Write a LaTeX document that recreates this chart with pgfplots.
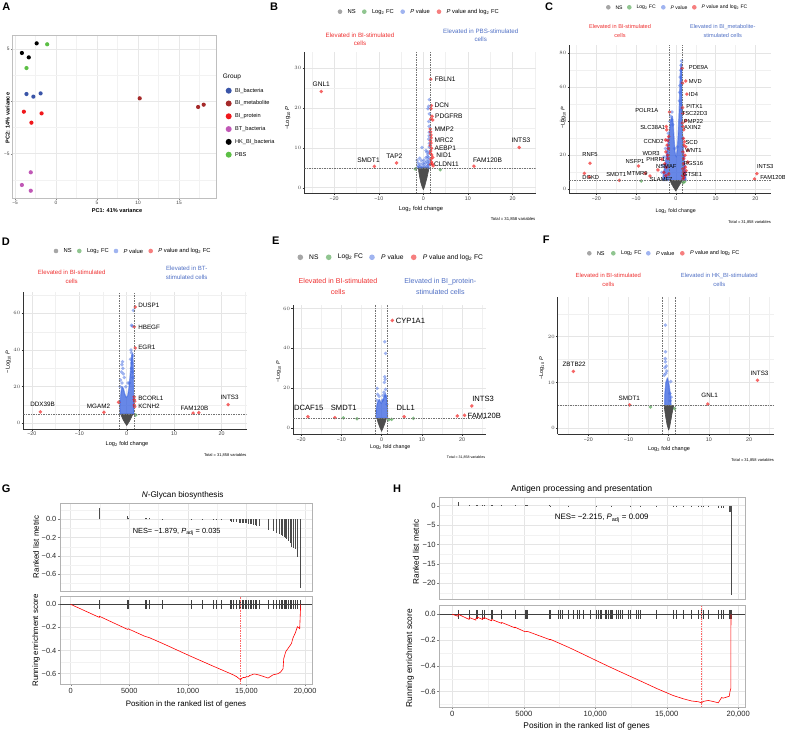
\documentclass[border=0pt]{standalone}
\usepackage{pgfplots}
\pgfplotsset{compat=1.18}
\usepackage{fontspec}
\setmainfont{Liberation Sans}
\definecolor{nsgrey}{HTML}{4D4D4D}
\definecolor{fcgreen}{HTML}{228B22}
\definecolor{pblue}{HTML}{4169E1}
\definecolor{bothred}{HTML}{EE0000}
\definecolor{annred}{HTML}{EE3030}
\definecolor{annblue}{HTML}{4F6FC4}
\definecolor{cBIb}{HTML}{3A55A8}
\definecolor{cBIm}{HTML}{A52A2A}
\definecolor{cBIp}{HTML}{F0181C}
\definecolor{cBT}{HTML}{C058B6}
\definecolor{cHK}{HTML}{000000}
\definecolor{cPBS}{HTML}{5CBF45}
\pgfplotsset{
  volc/.style={scale only axis, anchor=south west,
    axis x line*=bottom, axis y line*=left,
    axis line style={black!80, line width=0.7pt, -},
    tick style={black!80, line width=0.4pt},
    tick align=outside, major tick length=1.8pt, minor tick length=0pt,
    grid=both,
    major grid style={black!10, line width=0.45pt},
    minor grid style={black!6, line width=0.3pt},
    tick label style={font=\fontsize{5.3}{6}\selectfont, text=black!75, inner sep=1pt},
    clip mode=individual,
    xtick={-20,-10,0,10,20}, xticklabels={−20,−10,0,10,20},
    minor xtick={-25,-15,-5,5,15,25},
  },
  volFC/.style={only marks, mark=*, mark size=1.9pt, color=fcgreen, fill opacity=0.55, draw opacity=0},
  volPV/.style={only marks, mark=*, mark size=1.9pt, color=pblue, fill opacity=0.5, draw opacity=0},
  volBT/.style={only marks, mark=*, mark size=1.9pt, color=bothred, fill opacity=0.6, draw opacity=0},
  thr/.style={black!55, line width=0.35pt, dash pattern=on 1.5pt off 1pt},
  nspoly/.style={fill=nsgrey, draw=nsgrey, line width=0.6pt, line join=round},
  pvpoly/.style={fill=pblue, fill opacity=0.8, draw=pblue, draw opacity=0.6, line width=1.2pt, line join=round},
  grp/.style={only marks, mark=*, mark size=2.1pt, color=#1, draw opacity=0},
  pca/.style={scale only axis, anchor=south west,
    axis line style={black!25, line width=0.5pt},
    tick style={black!50, line width=0.3pt}, tick pos=left,
    tick align=outside, major tick length=1.5pt, minor tick length=0pt,
    grid=both, major grid style={black!9, line width=0.4pt}, minor grid style={black!5, line width=0.3pt},
    tick label style={font=\fontsize{4.8}{5}\selectfont, text=black!75, inner sep=1pt}},
  gsea/.style={scale only axis, anchor=south west,
    axis line style={black!30, line width=0.6pt},
    tick style={black!50, line width=0.4pt}, tick pos=left,
    tick align=outside, major tick length=2pt, minor tick length=0pt,
    grid=both, major grid style={black!10, line width=0.45pt}, minor grid style={black!5, line width=0.3pt},
    clip mode=individual, scaled x ticks=false,
    xtick={0,5000,10000,15000,20000},
    minor xtick={2500,7500,12500,17500},
    tick label style={text=black!85, inner sep=1.5pt}},
  legc/.style={only marks, mark=*, mark size=#1, draw opacity=0},
}
\begin{document}
\begin{tikzpicture}[x=1pt,y=1pt]
\path[use as bounding box] (0,0) rectangle (785,-733);

% ===================== A =====================
\begin{axis}[pca, at={(12.3pt,-198.7pt)}, width=203.7pt, height=163pt,
  xmin=-5.33, xmax=19.5, ymin=-9.3, ymax=6.27,
  xtick={-5,0,5,10,15}, xticklabels={−5,0,5,10,15},
  ytick={-5,0,5}, yticklabels={−5,0,5},
  minor xtick={-2.5,2.5,7.5,12.5,17.5}, minor ytick={-7.5,-2.5,2.5}]
\addplot[grp=cBIb] coordinates {(-3.6,0.70) (-2.76,0.45) (-1.88,0.76)};
\addplot[grp=cBIm] coordinates {(10.2,0.29) (17.32,-0.54) (18.0,-0.32)};
\addplot[grp=cBIp] coordinates {(-3.92,-0.99) (-1.76,-1.15) (-3.0,-2.04)};
\addplot[grp=cBT] coordinates {(-3.08,-6.78) (-4.16,-7.99) (-3.08,-8.54)};
\addplot[grp=cHK] coordinates {(-2.36,5.54) (-4.16,4.62) (-3.32,4.2)};
\addplot[grp=cPBS] coordinates {(-1.08,5.45) (-3.6,3.18)};
\end{axis}
\node[font=\bfseries\fontsize{5.6}{6}\selectfont] at (117,-210) {PC1: 41\% variance};
\node[font=\bfseries\fontsize{5.6}{6}\selectfont, rotate=90] at (7.5,-118) {PC2: 14\% variance};
\node[font=\fontsize{6.5}{7}\selectfont, anchor=west, inner sep=0pt] at (222.7,-77.3) {Group};
\begin{scope}[font=\fontsize{5.6}{6}\selectfont, every node/.style={anchor=west, inner sep=0pt}]
\node at (235,-90.7) {BI\_bacteria};
\node at (235,-103.5) {BI\_metabolite};
\node at (235,-116.3) {BI\_protein};
\node at (235,-129.1) {BT\_bacteria};
\node at (235,-141.9) {HK\_BI\_bacteria};
\node at (235,-154.7) {PBS};
\end{scope}

% ===================== B =====================
\begin{axis}[volc, at={(304.3pt,-193.3pt)}, width=231.4pt, height=141.6pt,
  xmin=-26.7, xmax=25.2, ymin=-1.4, ymax=34.1, ytick={0,10,20,30}, minor ytick={5,15,25}]
\addplot[nspoly] coordinates {(0,-0.5) (-0.3,0.3) (-0.55,1.2) (-0.75,2.2) (-0.9,3.2) (-1.05,4.2) (-1.1,5.0) (1.25,5.0) (1.15,4.2) (0.95,3.2) (0.75,2.2) (0.5,1.2) (0.3,0.3)} --cycle;
\addplot[volPV] coordinates {(1.35,22.1) (1.2,20.4) (1.05,19.8) (1.35,18.5) (1.2,16.6) (1.3,15.4) (1.35,13.9) (1.3,13.0) (1.2,12.2) (1.35,11.1) (-0.3,10.1) (0.6,9.3) (0.8,8.9) (1.05,8.4) (1.2,7.6) (1.3,9.0) (1.35,10.2) (-1.4,6.9) (-0.8,7.4) (-0.45,6.8) (0.1,6.9) (0.45,6.3) (0.8,6.6) (1.05,6.1) (1.2,5.8) (-1.05,5.5) (-0.7,5.9) (-0.2,5.3) (0.2,5.8) (0.7,5.3) (-1.3,5.1) (-0.45,5.1) (1.2,5.1) (0.9,7.8) (1.1,7.0) (-1.2,6.2) (0.3,5.2) (-0.9,5.2) (0.6,7.5) (1.3,6.5) (1.0,5.5) (-0.1,6.1)};
\addplot[volFC] coordinates {(-1.8,4.7) (3.8,4.5)};
\addplot[volBT] coordinates {(1.65,27.2) (1.8,20.6) (1.7,19.8) (1.95,17.9) (1.65,17.2) (2.1,17.0) (1.55,14.7) (1.6,14.0) (1.7,13.2) (1.6,11.8) (1.7,11.2) (1.55,10.6) (1.8,9.9) (1.65,9.2) (1.9,8.2) (2.1,7.6) (1.7,7.2) (1.8,6.5) (2.0,6.0) (1.6,5.8) (2.2,5.5) (1.6,8.6) (1.75,12.5) (-22.9,24.1) (-11.0,5.35) (-6.0,6.2) (11.35,5.4) (21.5,10.1)};
\addplot[thr] coordinates {(-1.5,-1.4) (-1.5,34.1)};
\addplot[thr] coordinates {(1.5,-1.4) (1.5,34.1)};
\addplot[thr] coordinates {(-26.7,5) (25.2,5)};
\begin{scope}[every node/.style={font=\fontsize{6.6}{7}\selectfont, inner sep=0pt}]
\node at (axis cs:-22.9,25.9) {GNL1};
\node at (axis cs:-12.3,6.9) {SMDT1};
\node at (axis cs:-6.5,8.0) {TAP2};
\node at (axis cs:14.4,7.0) {FAM120B};
\node at (axis cs:21.9,11.8) {INTS3};
\node[anchor=west] at (axis cs:2.55,27.2) {FBLN1};
\node[anchor=west] at (axis cs:2.5,20.6) {DCN};
\node[anchor=west] at (axis cs:2.6,17.9) {PDGFRB};
\node[anchor=west] at (axis cs:2.5,14.7) {MMP2};
\node[anchor=west] at (axis cs:2.5,11.8) {MRC2};
\node[anchor=west] at (axis cs:2.5,9.9) {AEBP1};
\node[anchor=west] at (axis cs:2.9,8.2) {NID1};
\node[anchor=west] at (axis cs:2.35,5.9) {CLDN11};
\end{scope}
\end{axis}
\begin{scope}[font=\fontsize{5.8}{6}\selectfont, every node/.style={anchor=west, inner sep=0pt}]
\node at (347.5,-11.7) {NS};
\node at (371.8,-11.7) {Log\textsubscript{2} FC};
\node at (410.2,-11.7) {\textit{P} value};
\node at (446.5,-11.7) {\textit{P} value and log\textsubscript{2} FC};
\end{scope}
\node[align=center, text=annred, font=\fontsize{6.2}{8.3}\selectfont] at (360,-39.2) {Elevated in BI-stimulated\\cells};
\node[align=center, text=annblue, font=\fontsize{6.2}{8.3}\selectfont] at (480.7,-35) {Elevated in PBS-stimulated\\cells};
\node[font=\fontsize{5.8}{6}\selectfont] at (421,-208.7) {Log\textsubscript{2} fold change};
\node[font=\fontsize{5.8}{6}\selectfont, rotate=90] at (287.7,-118) {−Log\textsubscript{10} \textit{P}};
\node[font=\fontsize{4.2}{5}\selectfont, anchor=east, inner sep=0pt] at (535.5,-219) {Total = 31,858 variables};

% ===================== C =====================
\begin{axis}[volc, at={(569.3pt,-193.3pt)}, width=201.7pt, height=148.3pt,
  xmin=-26.8, xmax=23.95, ymin=-2.35, ymax=84.9, ytick={0,20,40,60,80}, minor ytick={10,30,50,70}]
\addplot[pvpoly] coordinates {(-3.3,5.2) (-3.2,8) (-2.9,12) (-2.6,16) (-2.3,21) (-2.0,26) (-1.8,30) (-1.6,34) (-1.4,38) (-1.2,41) (-0.9,43) (-0.7,40) (-0.55,34) (-0.4,28) (-0.2,22) (0.1,19) (0.35,23) (0.55,30) (0.7,38) (0.85,46) (0.95,54) (1.05,62) (1.15,69) (1.35,74) (1.5,70) (1.5,62) (1.5,52) (1.55,44) (1.6,36) (1.75,28) (1.9,22) (2.1,16) (2.3,11) (2.5,7) (2.6,5.2)} --cycle;
\addplot[nspoly] coordinates {(0,-1.0) (-0.6,1.2) (-1.1,3.2) (-1.45,5.2) (1.55,5.2) (1.1,3.2) (0.6,1.2)} --cycle;
\addplot[volPV] coordinates {(1.45,75.5) (1.3,73) (1.25,70) (1.1,66) (1.0,61) (0.95,57) (0.9,52) (1.3,50) (1.4,47) (-0.95,45.5) (-1.3,43) (-1.05,41) (-1.5,40) (-0.8,38) (-1.9,33) (-2.2,29) (-2.6,24) (-3.0,19) (-3.4,14) (-3.5,10) (2.4,10) (2.2,14) (2.0,19) (1.8,25) (1.7,30) (0.4,25) (-0.3,24)};
\addplot[volFC] coordinates {(-8.7,4.9) (1.8,3.9) (2.2,4.5)};
\addplot[volBT] coordinates {(-1.6,45.5) (-2.4,36.9) (-2.3,35) (-2.0,28.6) (-2.2,26) (-1.9,24) (-2.5,22) (-2.1,20) (-3.5,17.6) (-2.0,18) (-2.8,15) (-4.5,11.4) (-2.4,13) (-3.0,10) (-1.8,9) (-2.5,8) (-6.5,7.8) (-7.7,9.4) (-9.4,13.7) (-14.2,5.3) (-21.6,15.3) (-23.0,9.4) (-21.8,7.3) (-1.8,31) (-2.6,29) (1.6,71.2) (2.5,63.7) (1.7,62.5) (2.8,56) (1.7,48) (1.8,44.7) (2.5,40.4) (1.7,39) (1.8,36.9) (2.0,35) (1.9,30) (2.2,28) (2.0,26) (2.5,25) (3.0,23) (1.8,22) (2.3,20) (2.0,18) (3.0,16) (1.9,15) (2.4,13) (1.8,12) (2.6,11) (1.9,10) (2.2,9) (1.7,8) (2.0,7) (1.8,6) (20.4,9.2) (19.8,6.1)};
\addplot[thr] coordinates {(-1.6,-2.35) (-1.6,84.9)};
\addplot[thr] coordinates {(1.6,-2.35) (1.6,84.9)};
\addplot[thr] coordinates {(-26.8,5.3) (23.95,5.3)};
\begin{scope}[every node/.style={font=\fontsize{5.8}{6}\selectfont, inner sep=0pt}]
\node at (axis cs:-21.6,20.2) {RNF5};
\node at (axis cs:-21.4,7.1) {DGKD};
\node at (axis cs:-15.0,9.0) {SMDT1};
\node at (axis cs:-10.25,16.1) {NSFP1};
\node at (axis cs:-9.7,9.4) {MTMR9};
\node at (axis cs:-5.0,17.3) {PHRF1};
\node at (axis cs:-2.4,13.3) {NSMAF};
\node at (axis cs:-6.2,21.2) {WDR3};
\node at (axis cs:-5.6,28.2) {CCND2};
\node at (axis cs:-5.8,36.3) {SLC38A1};
\node at (axis cs:-7.3,46.1) {POLR1A};
\node at (axis cs:-3.7,5.9) {SLAMF7};
\node at (axis cs:5.7,71.6) {PDE9A};
\node at (axis cs:4.9,63.7) {MVD};
\node at (axis cs:4.45,55.9) {ID4};
\node at (axis cs:4.7,48.6) {PITX1};
\node at (axis cs:4.7,44.7) {TSC22D3};
\node at (axis cs:4.45,39.8) {PMP22};
\node at (axis cs:4.2,36.5) {AXIN2};
\node at (axis cs:4.0,27.5) {SCD};
\node at (axis cs:4.45,23.1) {WNT1};
\node at (axis cs:4.45,15.3) {RGS16};
\node at (axis cs:4.2,8.8) {GTSE1};
\node at (axis cs:22.5,13.3) {INTS3};
\node at (axis cs:24.45,7.1) {FAM120B};
\end{scope}
\end{axis}
\begin{scope}[font=\fontsize{5.1}{6}\selectfont, every node/.style={anchor=west, inner sep=0pt}]
\node at (615.3,-7.3) {NS};
\node at (636.3,-7.3) {Log\textsubscript{2} FC};
\node at (670.3,-7.3) {\textit{P} value};
\node at (701.3,-7.3) {\textit{P} value and log\textsubscript{2} FC};
\end{scope}
\node[align=center, text=annred, font=\fontsize{5.6}{9}\selectfont] at (620,-30.5) {Elevated in BI-stimulated\\cells};
\node[align=center, text=annblue, font=\fontsize{5.6}{9}\selectfont] at (722.7,-30.5) {Elevated in BI\_metabolite-\\stimulated cells};
\node[font=\fontsize{5.3}{6}\selectfont] at (675.7,-211) {Log\textsubscript{2} fold change};
\node[font=\fontsize{5.3}{6}\selectfont, rotate=90] at (563.3,-118) {−Log\textsubscript{10} \textit{P}};
\node[font=\fontsize{4.0}{5}\selectfont, anchor=east, inner sep=0pt] at (771,-222.7) {Total = 31,858 variables};

% ===================== D =====================
\begin{axis}[volc, at={(23.3pt,-429pt)}, width=223.4pt, height=137.3pt,
  xmin=-21.8, xmax=25.3, ymin=-3.1, ymax=71.8, ytick={0,20,40,60}, minor ytick={10,30,50,70}]
\addplot[pvpoly] coordinates {(-1.4,5) (-1.45,9) (-1.35,13) (-1.2,17) (-1.0,20) (-0.7,19) (-0.4,16) (-0.1,14) (0.2,15) (0.45,19) (0.65,24) (0.85,30) (1.0,36) (1.2,38) (1.35,34) (1.4,27) (1.45,18) (1.5,10) (1.5,5)} --cycle;
\addplot[nspoly] coordinates {(0,-1.2) (-0.55,1.0) (-0.95,3.0) (-1.25,5.0) (1.3,5.0) (0.95,3.0) (0.55,1.0)} --cycle;
\addplot[volPV] coordinates {(1.4,61.6) (1.0,53.5) (1.2,53.0) (1.0,38.5) (1.3,37) (0.8,35) (1.1,33) (1.0,30) (1.2,28) (-0.9,33.6) (-1.0,32) (-0.8,30) (-1.1,28) (-1.3,23.6) (-0.5,25) (-1.0,22) (1.3,25) (0.6,22) (-0.2,20) (0.3,22) (-1.4,20) (-0.7,27) (0.9,40)};
\addplot[volFC] coordinates {(1.9,4.5)};
\addplot[volBT] coordinates {(1.8,63.5) (1.6,52.7) (1.8,41.1) (1.6,14.5) (1.6,13.0) (1.7,12.0) (1.6,10.0) (1.7,9.0) (-1.7,11.5) (-18.2,6.2) (-4.8,6.0) (14.0,5.6) (15.2,5.8) (21.4,10.2)};
\addplot[thr] coordinates {(-1.5,-3.1) (-1.5,71.8)};
\addplot[thr] coordinates {(1.5,-3.1) (1.5,71.8)};
\addplot[thr] coordinates {(-21.8,5) (25.3,5)};
\begin{scope}[every node/.style={font=\fontsize{6.3}{7}\selectfont, inner sep=0pt}]
\node[anchor=west] at (axis cs:2.4,64.2) {DUSP1};
\node[anchor=west] at (axis cs:2.4,52.4) {HBEGF};
\node[anchor=west] at (axis cs:2.4,41.5) {EGR1};
\node[anchor=west] at (axis cs:2.4,13.6) {BCORL1};
\node[anchor=west] at (axis cs:2.4,9.1) {KCNH2};
\node at (axis cs:-17.75,10.4) {DDX39B};
\node at (axis cs:-5.95,9.1) {MGAM2};
\node at (axis cs:14.3,8.4) {FAM120B};
\node at (axis cs:21.7,14.0) {INTS3};
\end{scope}
\end{axis}
\begin{scope}[font=\fontsize{5.8}{6}\selectfont, every node/.style={anchor=west, inner sep=0pt}]
\node at (63.5,-251) {NS};
\node at (86.8,-251) {Log\textsubscript{2} FC};
\node at (123.5,-251) {\textit{P} value};
\node at (158.2,-251) {\textit{P} value and log\textsubscript{2} FC};
\end{scope}
\node[align=center, text=annred, font=\fontsize{6.1}{9}\selectfont] at (71.7,-277.2) {Elevated in BI-stimulated\\cells};
\node[align=center, text=annblue, font=\fontsize{6.1}{9}\selectfont] at (186.7,-272.8) {Elevated in BT-\\stimulated cells};
\node[font=\fontsize{5.6}{6}\selectfont] at (127,-444) {Log\textsubscript{2} fold change};
\node[font=\fontsize{5.6}{6}\selectfont, rotate=90] at (8.3,-361.7) {−Log\textsubscript{10} \textit{P}};
\node[font=\fontsize{4.0}{5}\selectfont, anchor=east, inner sep=0pt] at (246.7,-455) {Total = 31,858 variables};

% ===================== E =====================
\begin{axis}[volc, at={(293pt,-434.3pt)}, width=193.3pt, height=129.3pt,
  xmin=-22.0, xmax=26.0, ymin=-3, ymax=61.7, ytick={0,20,40,60}, minor ytick={10,30,50}]
\addplot[pvpoly] coordinates {(-1.3,5) (-1.35,9) (-1.1,12.5) (-0.6,14.5) (-0.1,12.5) (0.4,14.5) (0.9,17.5) (1.25,15) (1.45,10) (1.5,5)} --cycle;
\addplot[nspoly] coordinates {(0,-1.5) (-0.5,0.8) (-0.9,3.0) (-1.15,5.0) (1.2,5.0) (0.9,3.0) (0.5,0.8)} --cycle;
\addplot[volPV] coordinates {(0.8,43.3) (1.0,37.5) (0.8,25.8) (0.9,24.5) (0.7,23) (-1.1,20) (1.0,19.5) (0.6,18) (-1.0,17) (1.2,16) (-1.2,14) (0.4,16.5) (-0.6,16) (0.2,14) (1.3,12)};
\addplot[volFC] coordinates {(-9.5,5.2) (-6.1,4.8) (7.9,5.0) (2.5,4.5) (1.8,4.3)};
\addplot[volBT] coordinates {(2.65,54) (-18.3,5.8) (-11.6,5.3) (5.6,5.8) (18.8,6.2) (20.6,6.5) (22.4,11.2)};
\addplot[thr] coordinates {(-1.5,-3) (-1.5,61.7)};
\addplot[thr] coordinates {(1.5,-3) (1.5,61.7)};
\addplot[thr] coordinates {(-22,5) (26,5)};
\begin{scope}[every node/.style={font=\fontsize{7.6}{8}\selectfont, inner sep=0pt}]
\node[anchor=west] at (axis cs:3.5,54) {CYP1A1};
\node at (axis cs:-18.1,10.3) {DCAF15};
\node at (axis cs:-9.4,10.0) {SMDT1};
\node at (axis cs:6.0,10.3) {DLL1};
\node at (axis cs:25.2,14.5) {INTS3};
\node at (axis cs:25.5,6.3) {FAM120B};
\end{scope}
\end{axis}
\begin{scope}[font=\fontsize{6.7}{7}\selectfont, every node/.style={anchor=west, inner sep=0pt}]
\node at (309,-257.3) {NS};
\node at (337.7,-257.3) {Log\textsubscript{2} FC};
\node at (381,-257.3) {\textit{P} value};
\node at (422.7,-257.3) {\textit{P} value and log\textsubscript{2} FC};
\end{scope}
\node[align=center, text=annred, font=\fontsize{7.1}{11.3}\selectfont] at (338,-286.7) {Elevated in BI-stimulated\\cells};
\node[align=center, text=annblue, font=\fontsize{7.1}{11.3}\selectfont] at (440.3,-286.7) {Elevated in BI\_protein-\\stimulated cells};
\node[font=\fontsize{5.3}{6}\selectfont] at (390.3,-446.7) {Log\textsubscript{2} fold change};
\node[font=\fontsize{5.3}{6}\selectfont, rotate=90] at (278.7,-371.7) {−Log\textsubscript{10} \textit{P}};
\node[font=\fontsize{3.6}{4}\selectfont, anchor=east, inner sep=0pt] at (485.3,-457.3) {Total = 31,858 variables};

% ===================== F =====================
\begin{axis}[volc, at={(557.7pt,-434.3pt)}, width=216.3pt, height=137.6pt,
  xmin=-27.6, xmax=26.2, ymin=-1.3, ymax=28.7, ytick={0,10,20}, minor ytick={5,15,25}]
\addplot[pvpoly] coordinates {(-1.0,5) (-0.95,7.5) (-0.7,10) (-0.3,11) (0.1,9.5) (0.4,7.5) (0.6,5)} --cycle;
\addplot[nspoly] coordinates {(0,-0.4) (-0.4,0.8) (-0.75,2.5) (-1.0,4.0) (-1.1,5.0) (1.25,5.0) (0.9,3.5) (0.5,1.5) (0.25,0.3)} --cycle;
\addplot[volPV] coordinates {(-0.8,22.5) (-0.8,16.7) (-0.85,15.2) (-0.8,14.5) (-0.9,13.2) (-1.1,11.6) (0.5,10.2) (0.3,7.6) (-0.6,13.6) (-0.5,12.5) (-0.7,12) (0.6,6.8) (0.4,6.0)};
\addplot[volFC] coordinates {(-4.5,4.65) (1.5,4.3)};
\addplot[volBT] coordinates {(-23.7,12.4) (-9.7,5.1) (9.75,5.3) (22.1,10.5)};
\addplot[thr] coordinates {(-1.5,-1.3) (-1.5,28.7)};
\addplot[thr] coordinates {(1.5,-1.3) (1.5,28.7)};
\addplot[thr] coordinates {(-27.6,5) (26.2,5)};
\begin{scope}[every node/.style={font=\fontsize{6.3}{7}\selectfont, inner sep=0pt}]
\node at (axis cs:-23.5,14.0) {ZBTB22};
\node at (axis cs:-9.8,6.5) {SMDT1};
\node at (axis cs:10.2,7.1) {GNL1};
\node at (axis cs:22.6,12.0) {INTS3};
\end{scope}
\end{axis}
\begin{scope}[font=\fontsize{5.5}{6}\selectfont, every node/.style={anchor=west, inner sep=0pt}]
\node at (596.8,-253.3) {NS};
\node at (620.8,-253.3) {Log\textsubscript{2} FC};
\node at (655.8,-253.3) {\textit{P} value};
\node at (689.8,-253.3) {\textit{P} value and log\textsubscript{2} FC};
\end{scope}
\node[align=center, text=annred, font=\fontsize{5.9}{9}\selectfont] at (608.3,-279.5) {Elevated in BI-stimulated\\cells};
\node[align=center, text=annblue, font=\fontsize{5.9}{9}\selectfont] at (719.3,-279.5) {Elevated in HK\_BI-stimulated\\cells};
\node[font=\fontsize{5.5}{6}\selectfont] at (669,-449.3) {Log\textsubscript{2} fold change};
\node[font=\fontsize{5.5}{6}\selectfont, rotate=90] at (541.7,-368.3) {−Log\textsubscript{10} \textit{P}};
\node[font=\fontsize{4.0}{5}\selectfont, anchor=east, inner sep=0pt] at (774,-460.3) {Total = 31,858 variables};

% ===================== G =====================
\begin{axis}[gsea, at={(60pt,-591pt)}, width=252.3pt, height=87.7pt,
  xmin=-913, xmax=20614, ymin=-0.787, ymax=0.176,
  ytick={0,-0.2,-0.4,-0.6}, yticklabels={0.0,−0.2,−0.4,−0.6}, minor ytick={0.1,-0.1,-0.3,-0.5,-0.7},
  xticklabels={}, xtick style={draw=none},
  tick label style={font=\fontsize{7.4}{8}\selectfont}]
\addplot[ycomb, black!70, line width=0.45pt] coordinates {(2442,0.128) (4856,0.04) (4913,0.02) (6333,0.02) (6475,0.015) (6674,0.01) (7810,0.005) (10252,0.003) (11218,0.002) (12155,-0.004) (12439,-0.005) (12865,-0.006) (13575,-0.02) (13717,-0.025) (13859,-0.03) (14143,-0.03) (14370,-0.035) (14484,-0.035) (14598,-0.04) (14654,-0.04) (14740,-0.04) (14853,-0.045) (14995,-0.045) (15137,-0.05) (15279,-0.05) (15421,-0.055) (15563,-0.06) (15705,-0.065) (15847,-0.07) (16074,-0.075) (16841,-0.12) (17267,-0.13) (17551,-0.15) (17778,-0.16) (17920,-0.17) (18034,-0.18) (18176,-0.19) (18290,-0.2) (18403,-0.22) (18574,-0.24) (18716,-0.26) (18858,-0.3) (19000,-0.31) (19142,-0.33) (19340,-0.41) (19624,-0.75)};
\end{axis}
\begin{axis}[gsea, at={(60pt,-684.3pt)}, width=252.3pt, height=87.6pt,
  xmin=-913, xmax=20614, ymin=-0.692, ymax=0.066,
  ytick={0,-0.2,-0.4,-0.6}, yticklabels={0.0,−0.2,−0.4,−0.6}, minor ytick={-0.1,-0.3,-0.5},
  xticklabels={0,5000,{10,000},{15,000},{20,000}},
  tick label style={font=\fontsize{7.4}{8}\selectfont}]
\addplot[black!75, line width=0.5pt] coordinates {(-913,0) (20614,0)};
\addplot[only marks, mark=|, mark size=4.2pt, mark options={black!75, line width=0.45pt}] coordinates {(2442,0) (4856,0) (4913,0) (6333,0) (6475,0) (6674,0) (7810,0) (10252,0) (11218,0) (12155,0) (12439,0) (12865,0) (13575,0) (13717,0) (13859,0) (14143,0) (14370,0) (14484,0) (14598,0) (14654,0) (14740,0) (14853,0) (14995,0) (15137,0) (15279,0) (15421,0) (15563,0) (15705,0) (15847,0) (16074,0) (16841,0) (17267,0) (17551,0) (17778,0) (17920,0) (18034,0) (18176,0) (18290,0) (18403,0) (18574,0) (18716,0) (18858,0) (19000,0) (19142,0) (19340,0) (19624,0)};
\addplot[red!60, line width=0.4pt, dash pattern=on 1.5pt off 1pt] coordinates {(14484,-0.692) (14484,0.066)};
\addplot[red, line width=0.6pt] coordinates {(0,0) (2440,-0.113) (2442,-0.103) (4856,-0.217) (4913,-0.212) (6333,-0.277) (6475,-0.281) (6674,-0.287) (7810,-0.337) (10252,-0.45) (11218,-0.493) (12155,-0.535) (12865,-0.566) (13575,-0.597) (13859,-0.61) (14143,-0.625) (14484,-0.652) (14598,-0.64) (14740,-0.632) (14853,-0.635) (14995,-0.625) (15137,-0.628) (15279,-0.615) (15421,-0.612) (15563,-0.605) (15705,-0.603) (15847,-0.606) (16074,-0.612) (16415,-0.623) (16841,-0.638) (17267,-0.61) (17693,-0.6) (17920,-0.585) (18120,-0.557) (18176,-0.47) (18347,-0.41) (18574,-0.377) (18830,-0.34) (18971,-0.29) (19170,-0.246) (19340,-0.194) (19539,-0.21) (19624,0.0)};
\end{axis}
\node[font=\fontsize{8.2}{9}\selectfont] at (182.7,-495) {\textit{N}-Glycan biosynthesis};
\node[font=\fontsize{7.4}{8}\selectfont] at (176.7,-531.7) {NES= −1.879, \textit{P}\textsubscript{adj} = 0.035};
\node[font=\fontsize{7.9}{8}\selectfont, rotate=90] at (36,-546.7) {Ranked list metric};
\node[font=\fontsize{7.9}{8}\selectfont, rotate=90] at (36,-640.5) {Running enrichment score};
\node[font=\fontsize{7.9}{8}\selectfont] at (186,-704.3) {Position in the ranked list of genes};

% ===================== H =====================
\begin{axis}[gsea, at={(439.3pt,-599.3pt)}, width=305.7pt, height=101.6pt,
  xmin=-909, xmax=20469, ymin=-24.2, ymax=2.07,
  ytick={0,-5,-10,-15,-20}, yticklabels={0,−5,−10,−15,−20}, minor ytick={-2.5,-7.5,-12.5,-17.5,-22.5},
  xticklabels={}, xtick style={draw=none},
  tick label style={font=\fontsize{7.6}{8}\selectfont}]
\addplot[ycomb, black!70, line width=0.45pt] coordinates {(420,1.0) (1189,0.3) (1655,0.3) (1748,0.2) (2121,0.3) (2214,0.2) (2751,0.2) (2821,0.2) (3450,0.15) (4382,0.12) (5082,0.12) (5152,0.1) (5245,0.1) (6783,0.06) (6876,0.05) (8112,0.03) (10093,0.02) (11142,-0.02) (12424,-0.05) (13124,-0.08) (14289,-0.2) (15455,-0.2) (15688,-0.25) (16154,-0.25) (16737,-0.3) (17203,-0.3) (17436,-0.3) (17552,-0.35) (17902,-0.35) (18601,-0.6) (18834,-0.6) (18951,-0.7) (19371,-1.5) (19417,-1.6) (19487,-23.1)};
\end{axis}
\begin{axis}[gsea, at={(439.3pt,-707.3pt)}, width=305.7pt, height=102.3pt,
  xmin=-909, xmax=20469, ymin=-0.721, ymax=0.072,
  ytick={0,-0.2,-0.4,-0.6}, yticklabels={0.0,−0.2,−0.4,−0.6}, minor ytick={-0.1,-0.3,-0.5,-0.7},
  xticklabels={0,5000,{10,000},{15,000},{20,000}},
  tick label style={font=\fontsize{7.6}{8}\selectfont}]
\addplot[black!75, line width=0.5pt] coordinates {(-909,0) (20469,0)};
\addplot[only marks, mark=|, mark size=4.5pt, mark options={black!75, line width=0.45pt}] coordinates {(420,0) (1189,0) (1655,0) (1748,0) (2121,0) (2214,0) (2751,0) (2821,0) (3450,0) (4382,0) (5082,0) (5152,0) (5245,0) (6783,0) (6876,0) (7413,0) (7576,0) (7716,0) (8112,0) (8462,0) (8741,0) (8881,0) (9161,0) (9627,0) (10093,0) (10210,0) (10326,0) (10443,0) (10676,0) (10746,0) (10793,0) (10909,0) (11026,0) (11142,0) (11212,0) (11492,0) (11608,0) (11725,0) (11911,0) (12307,0) (12424,0) (12844,0) (13007,0) (13124,0) (14289,0) (15455,0) (15688,0) (16154,0) (16737,0) (17203,0) (17436,0) (17552,0) (17902,0) (18601,0) (18834,0) (18951,0) (19371,0) (19417,0) (19487,0)};
\addplot[red!60, line width=0.4pt, dash pattern=on 1.5pt off 1pt] coordinates {(17436,-0.721) (17436,0.072)};
\addplot[red, line width=0.6pt] coordinates {(0,0) (400,-0.015) (420,0.0) (1180,-0.04) (1189,-0.025) (1650,-0.045) (1655,-0.03) (1748,-0.033) (1752,-0.022) (2115,-0.04) (2121,-0.03) (2214,-0.034) (2218,-0.025) (2745,-0.05) (2751,-0.04) (2821,-0.043) (3445,-0.07) (3450,-0.063) (4380,-0.105) (4382,-0.1) (5080,-0.135) (5245,-0.132) (6783,-0.195) (6876,-0.195) (8112,-0.255) (9161,-0.31) (10093,-0.36) (11142,-0.415) (12424,-0.48) (13124,-0.515) (14289,-0.575) (15455,-0.63) (16154,-0.655) (16737,-0.672) (17203,-0.678) (17436,-0.686) (17552,-0.675) (17902,-0.668) (18200,-0.675) (18601,-0.686) (18834,-0.645) (18951,-0.65) (19371,-0.635) (19417,-0.6) (19480,-0.575) (19487,0)};
\end{axis}
\node[font=\fontsize{8.7}{9}\selectfont] at (581.7,-489.3) {Antigen processing and presentation};
\node[font=\fontsize{7.9}{8}\selectfont] at (601.7,-518.3) {NES= −2.215, \textit{P}\textsubscript{adj} = 0.009};
\node[font=\fontsize{8.2}{9}\selectfont, rotate=90] at (416,-551.7) {Ranked list metric};
\node[font=\fontsize{8.4}{9}\selectfont, rotate=90] at (410,-658.3) {Running enrichment score};
\node[font=\fontsize{8.3}{9}\selectfont] at (586.7,-726.7) {Position in the ranked list of genes};

% ===================== legend symbols (overlay axis in pixel units) =====================
\begin{axis}[at={(0pt,-733pt)}, anchor=south west, scale only axis, width=785pt, height=733pt,
  xmin=0, xmax=785, ymin=-733, ymax=0, hide axis, clip=false]
\addplot[legc=3pt, color=cBIb] coordinates {(228.7,-90.7)};
\addplot[legc=3pt, color=cBIm] coordinates {(228.7,-103.5)};
\addplot[legc=3pt, color=cBIp] coordinates {(228.7,-116.3)};
\addplot[legc=3pt, color=cBT] coordinates {(228.7,-129.1)};
\addplot[legc=3pt, color=cHK] coordinates {(228.7,-141.9)};
\addplot[legc=3pt, color=cPBS] coordinates {(228.7,-154.7)};
\addplot[legc=2.3pt, color=nsgrey, fill opacity=0.5] coordinates {(340,-11.7) (608.3,-7.3) (56,-251) (589.3,-253.3)};
\addplot[legc=2.3pt, color=fcgreen, fill opacity=0.5] coordinates {(364.3,-11.7) (629.3,-7.3) (79.3,-251) (613.3,-253.3)};
\addplot[legc=2.3pt, color=pblue, fill opacity=0.5] coordinates {(402.7,-11.7) (663.3,-7.3) (116,-251) (648.3,-253.3)};
\addplot[legc=2.3pt, color=bothred, fill opacity=0.5] coordinates {(439,-11.7) (694.3,-7.3) (150.7,-251) (682.3,-253.3)};
\addplot[legc=2.8pt, color=nsgrey, fill opacity=0.5] coordinates {(300.3,-257.3)};
\addplot[legc=2.8pt, color=fcgreen, fill opacity=0.5] coordinates {(328.7,-257.3)};
\addplot[legc=2.8pt, color=pblue, fill opacity=0.5] coordinates {(372,-257.3)};
\addplot[legc=2.8pt, color=bothred, fill opacity=0.5] coordinates {(413.7,-257.3)};
\end{axis}

% panel letters
\begin{scope}[every node/.style={font=\bfseries\fontsize{11}{11}\selectfont, inner sep=0pt}]
\node at (6.3,-6.7) {A};
\node at (274,-6.3) {B};
\node at (549,-6.7) {C};
\node at (5.8,-242) {D};
\node at (275.7,-240.8) {E};
\node at (546.3,-240) {F};
\node at (6.2,-488.8) {G};
\node at (397.2,-488.8) {H};
\end{scope}
\end{tikzpicture}
\end{document}
